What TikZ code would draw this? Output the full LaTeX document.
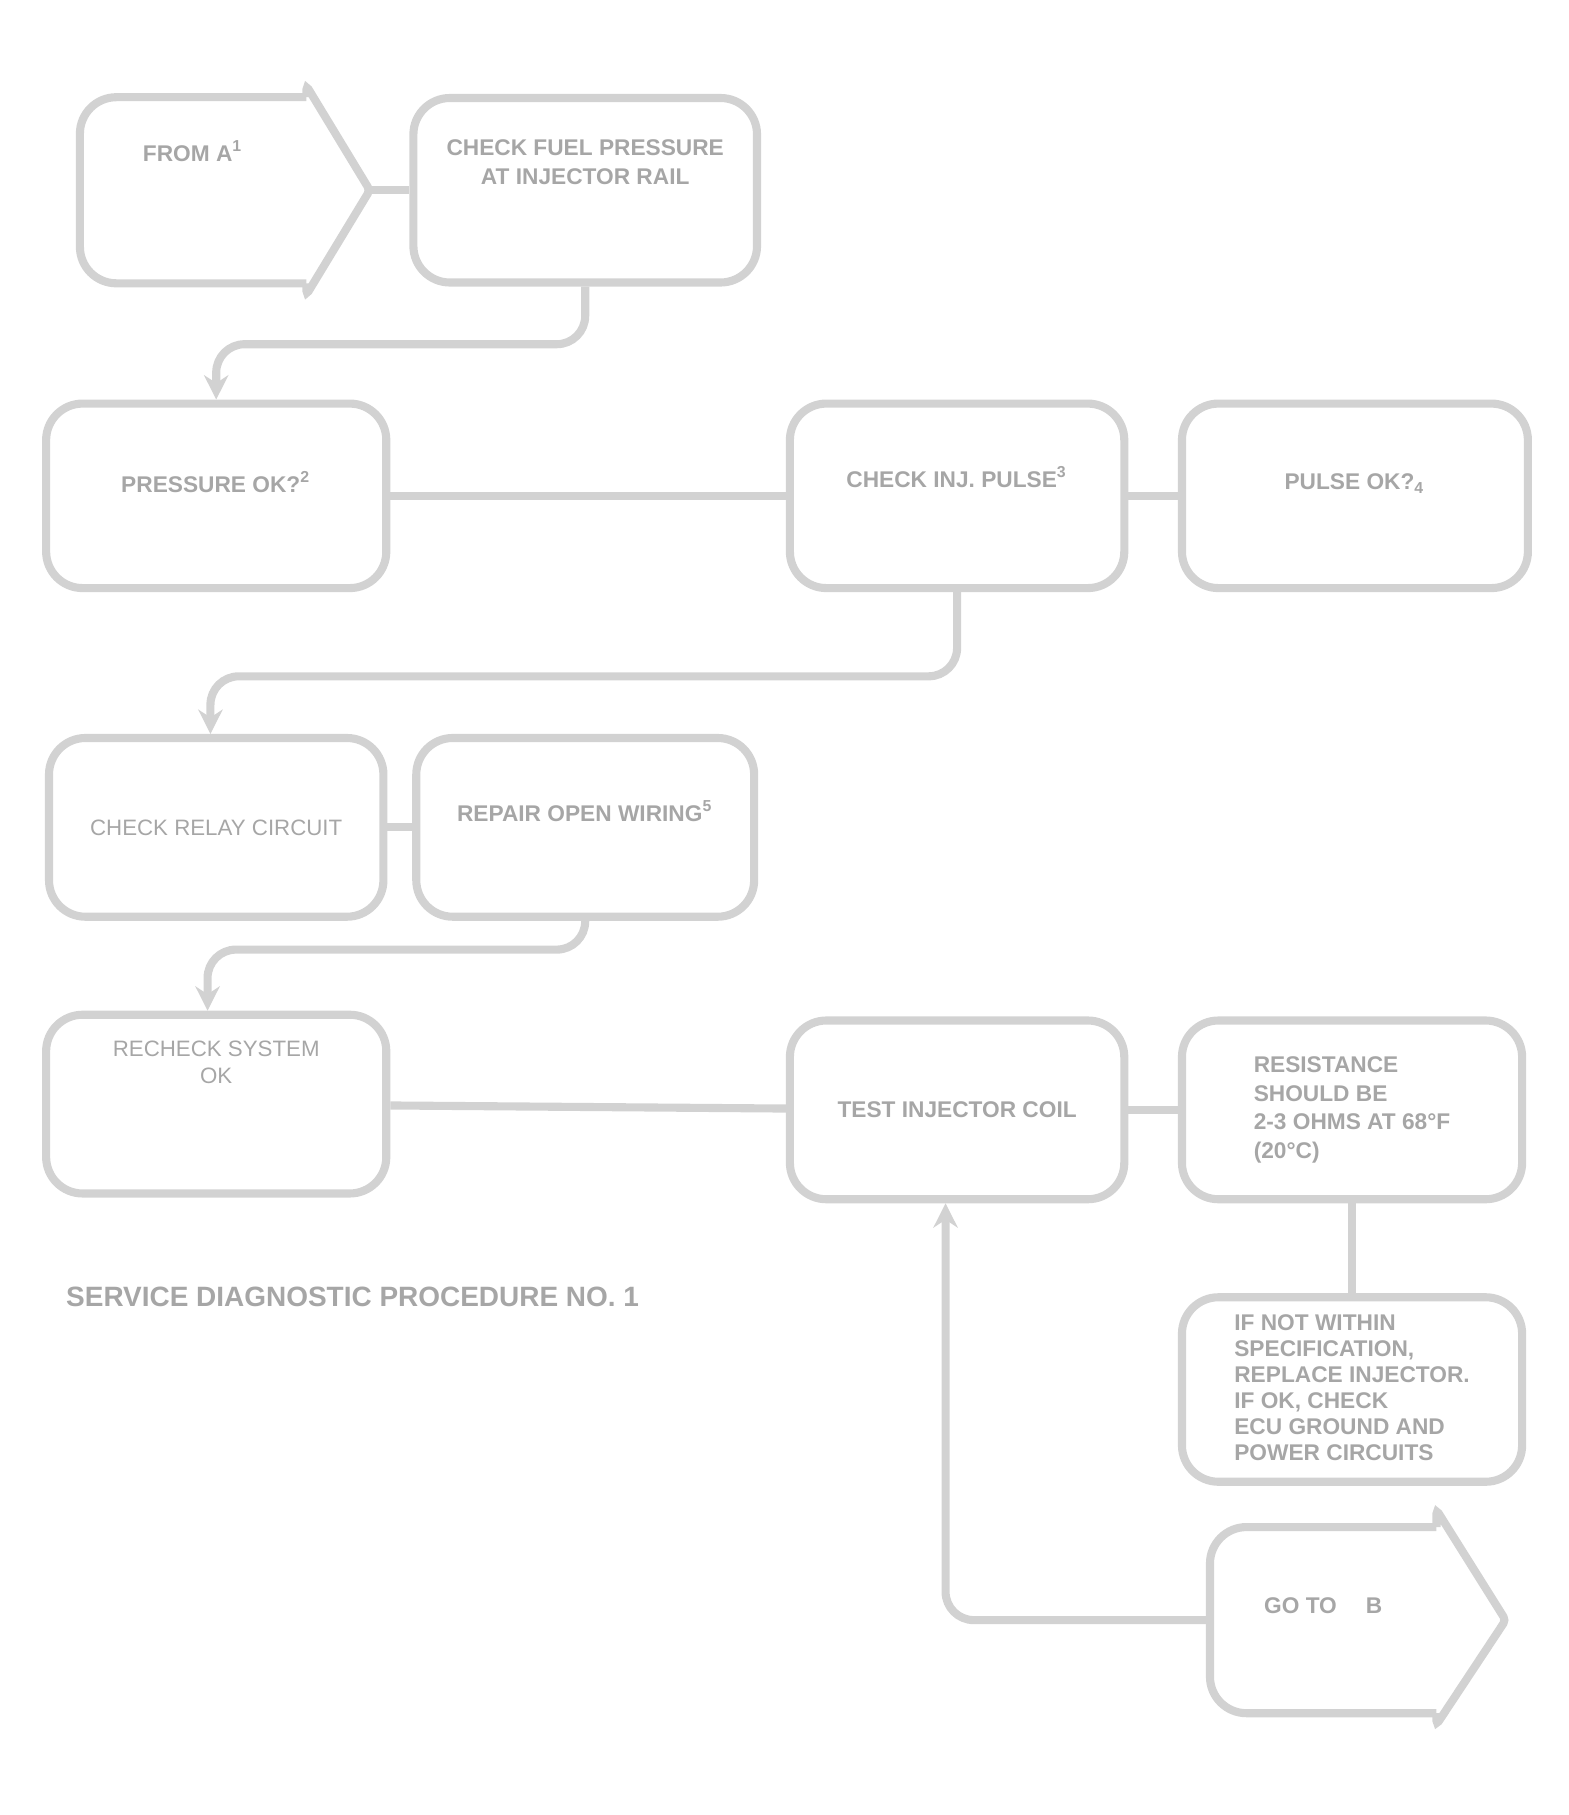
\documentclass[tikz,border=0pt]{standalone}
\usepackage{fontspec}
\setmainfont{Liberation Sans}
\usetikzlibrary{arrows, arrows.meta}
\tikzstyle{stepbox} = [rectangle, rounded corners=9pt, minimum width=2.9cm, minimum height=1.6cm, draw=gray!35, line width=2pt, text=gray!70, font=\fontsize{5.6}{7}\selectfont\bfseries, align=center]
\tikzstyle{offpage} = [rectangle, minimum width=1.95cm, minimum height=1.6cm, text=gray!70, font=\fontsize{5.6}{7}\selectfont\bfseries, align=left]
\tikzstyle{link} = [draw=gray!35, line width=2pt, rounded corners=7pt]
\tikzstyle{arrow} = [link, -{Stealth[length=6pt, width=6pt]}]

\begin{document}
\begin{tikzpicture}[node distance=3.4cm]
\useasboundingbox (0,0) rectangle (13.6,-15.74);

\node (start) [offpage] at (1.675,-1.65) {FROM A\textsuperscript{1}\\[4.4mm]~};
\node (press) [stepbox, right of=start, minimum width=2.98cm] {CHECK FUEL PRESSURE\\AT INJECTOR RAIL\\[2.4mm]~};
\node (pok) [stepbox, below of=start, xshift=0.2cm, yshift=0.75cm, minimum width=2.95cm] {PRESSURE OK?\textsuperscript{2}\\~};
\node (pulse) [stepbox, right of=pok, xshift=3.025cm] {CHECK INJ. PULSE\textsuperscript{3}\\[0.8mm]~};
\node (plsok) [stepbox, right of=pulse, xshift=0.05cm, minimum width=3cm] {PULSE OK?\textsubscript{4}\\~};
\node (relay) [stepbox, below of=pok, yshift=0.525cm, minimum height=1.55cm, font=\fontsize{5.5}{7}\selectfont] {CHECK RELAY CIRCUIT};
\node (wire) [stepbox, right of=relay, xshift=-0.2cm, minimum width=2.93cm, minimum height=1.55cm] {REPAIR OPEN WIRING\textsuperscript{5}\\[0.4mm]~};
\node (ecu) [stepbox, below of=relay, yshift=1cm, minimum width=2.95cm, minimum height=1.55cm, font=\fontsize{5.5}{6.5}\selectfont] {RECHECK SYSTEM\\OK\\[5mm]~};
\node (inj) [stepbox, right of=ecu, xshift=3.025cm, yshift=-0.05cm, minimum height=1.55cm] {TEST INJECTOR COIL};
\node (coil) [stepbox, right of=inj, xshift=0.025cm, minimum width=2.95cm, minimum height=1.55cm, align=left, font=\fontsize{5.6}{7}\selectfont\bfseries] {RESISTANCE\\SHOULD BE\\2-3 OHMS AT 68°F\\(20°C)};
\node (repl) [stepbox, below of=coil, yshift=0.975cm, minimum width=2.95cm, align=left, font=\fontsize{5.6}{6.4}\selectfont\bfseries] {~\\[-1.2mm]IF NOT WITHIN\\SPECIFICATION,\\REPLACE INJECTOR.\\IF OK, CHECK\\ECU GROUND AND\\POWER CIRCUITS};
\node (back) [offpage, below of=repl, xshift=-0.25cm, yshift=1.4cm] {GO TO \quad B\\~};
\node (title) [anchor=west, text=gray!70, font=\fontsize{6.9}{8}\selectfont\bfseries] at (0.45,-11.25) {SERVICE DIAGNOSTIC PROCEDURE NO. 1};

% off-page shapes
\coordinate (starttip) at ([xshift=0.55cm]start.east);
\coordinate (backtip) at ([xshift=0.6cm]back.east);
\draw [link, rounded corners=9pt] (start.north east) -- (start.north west) -- (start.south west) -- (start.south east);
\draw [link, rounded corners=1pt] (start.south east) -- ++(0,-0.1) -- (starttip) -- ([yshift=0.1cm]start.north east) -- (start.north east);
\draw [link, rounded corners=9pt] (back.north east) -- (back.north west) -- (back.south west) -- (back.south east);
\draw [link, rounded corners=1pt] (back.south east) -- ++(0,-0.1) -- (backtip) -- ([yshift=0.15cm]back.north east) -- (back.north east);

\draw [link] (starttip) -- (press);
\draw [arrow] (press.south) -- ++(0,-0.5) -| (pok.north);
\draw [link] (pok) -- (pulse);
\draw [link] (pulse) -- (plsok);
\draw [arrow] (pulse.south) -- ++(0,-0.73) -| ([xshift=-0.05cm]relay.north);
\draw [link] (relay) -- (wire);
\draw [arrow] (wire.south) -- ++(0,-0.25) -| ([xshift=-0.075cm]ecu.north);
\draw [link] (ecu) -- (inj);
\draw [link] (inj) -- (coil);
\draw [link] (coil) -- (repl);
\draw [arrow] (back.west) -| ([xshift=-0.1cm]inj.south);

\end{tikzpicture}
\end{document}
